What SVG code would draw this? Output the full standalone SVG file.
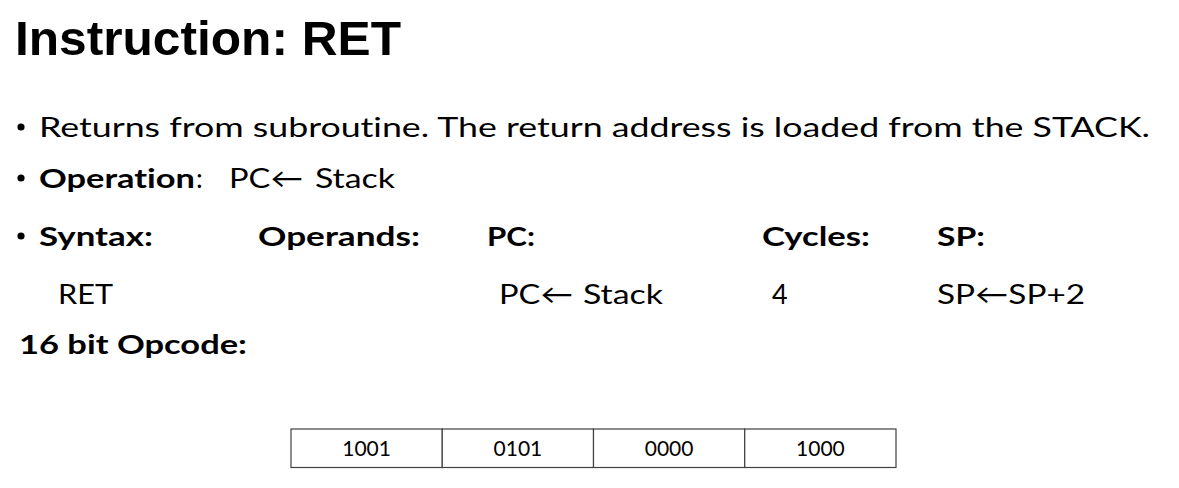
<svg xmlns="http://www.w3.org/2000/svg" width="1179" height="488" viewBox="0 0 1179 488">
<style>
text{font-variant-ligatures:none}
.t{font-family:"Liberation Sans",Arial,sans-serif;font-weight:bold;font-size:48px;fill:#000}
.b{font-family:Lato,"Open Sans","DejaVu Sans",sans-serif;font-size:27px;fill:#000}
.bb{font-family:Lato,"Open Sans","DejaVu Sans",sans-serif;font-size:27px;font-weight:bold;fill:#000}
.c{font-family:Lato,"Open Sans",sans-serif;font-size:21px;fill:#000;text-anchor:middle}
.cell{fill:#fff;stroke:#404040;stroke-width:1.2}
</style>
<rect width="1179" height="488" fill="#fff"/>
<g id="title">
<text class="t" x="15" y="55" textLength="386" lengthAdjust="spacingAndGlyphs">Instruction: RET</text>
</g>
<g id="bullets" fill="#000">
<circle cx="21" cy="127" r="3.6"/>
<circle cx="21" cy="178" r="3.6"/>
<circle cx="21" cy="236" r="3.6"/>
</g>
<g id="line1">
<text class="b" x="39" y="137" textLength="1111" lengthAdjust="spacingAndGlyphs">Returns from subroutine. The return address is loaded from the STACK.</text>
</g>
<g id="line2">
<text class="bb" x="39" y="188" textLength="156" lengthAdjust="spacingAndGlyphs">Operation</text>
<text class="b" x="196" y="188">:</text>
<text class="b" x="229" y="188" textLength="74" lengthAdjust="spacingAndGlyphs">PC←</text>
<text class="b" x="315" y="188" textLength="80" lengthAdjust="spacingAndGlyphs">Stack</text>
</g>
<g id="line3">
<text class="bb" x="39" y="246" textLength="114" lengthAdjust="spacingAndGlyphs">Syntax:</text>
<text class="bb" x="258" y="246" textLength="162" lengthAdjust="spacingAndGlyphs">Operands:</text>
<text class="bb" x="487" y="246" textLength="48" lengthAdjust="spacingAndGlyphs">PC:</text>
<text class="bb" x="762" y="246" textLength="108" lengthAdjust="spacingAndGlyphs">Cycles:</text>
<text class="bb" x="937" y="246" textLength="48" lengthAdjust="spacingAndGlyphs">SP:</text>
</g>
<g id="line4">
<text class="b" x="58" y="304" textLength="55" lengthAdjust="spacingAndGlyphs">RET</text>
<text class="b" x="499" y="304" textLength="74" lengthAdjust="spacingAndGlyphs">PC←</text>
<text class="b" x="583" y="304" textLength="80" lengthAdjust="spacingAndGlyphs">Stack</text>
<text class="b" x="772" y="304">4</text>
<text class="b" x="937" y="304" textLength="148" lengthAdjust="spacingAndGlyphs">SP←SP+2</text>
</g>
<g id="line5">
<text class="bb" x="19" y="354" textLength="228" lengthAdjust="spacingAndGlyphs">16 bit Opcode:</text>
</g>
<g id="opcode">
<g id="cell1"><rect class="cell" x="291" y="429" width="151.25" height="38.5"/><text class="c" x="366.6" y="455.5">1001</text></g>
<g id="cell2"><rect class="cell" x="442.25" y="429" width="151.25" height="38.5"/><text class="c" x="517.9" y="455.5">0101</text></g>
<g id="cell3"><rect class="cell" x="593.5" y="429" width="151.25" height="38.5"/><text class="c" x="669.1" y="455.5">0000</text></g>
<g id="cell4"><rect class="cell" x="744.75" y="429" width="151.25" height="38.5"/><text class="c" x="820.4" y="455.5">1000</text></g>
</g>
</svg>
